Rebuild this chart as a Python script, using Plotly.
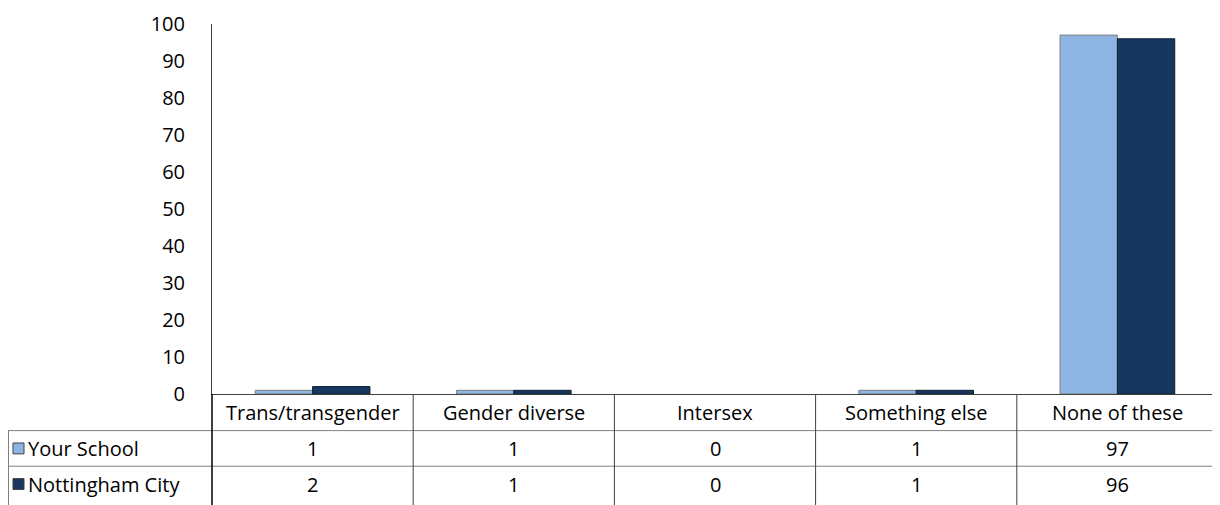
import plotly.graph_objects as go

categories = ["Trans/transgender", "Gender diverse", "Intersex", "Something else", "None of these"]
series_names = ["Your School", "Nottingham City"]
your_school = [1, 1, 0, 1, 97]
nottingham_city = [2, 1, 0, 1, 96]
y_ticks = [0, 10, 20, 30, 40, 50, 60, 70, 80, 90, 100]

colors = ["#8EB4E3", "#17375E"]
outlines = ["#7F7F7F", "#0D1F33"]
FONT = "Open Sans"
FS = 20
OFF = 8  # page body margin
W, H = 1220 - OFF, 505 - OFF
# plot area in page pixels: x 212..1218, y 20..394
L, R, T, B = 212 - OFF, 1220 - 1218, 20 - OFF, 505 - 394
pw, ph = W - L - R, H - T - B

def py(pix):
    return (394 - pix) / ph

def px(pix):
    return (pix - 212) / pw

fig = go.Figure()
for name, vals, c, oc in zip(series_names, [your_school, nottingham_city], colors, outlines):
    widths = [1 if v > 0 else 0 for v in vals]
    fig.add_trace(go.Bar(x=categories, y=vals, name=name,
                         marker=dict(color=c, line=dict(color=oc, width=widths))))

shapes = []
annotations = []
line_gray = "#808080"
for yy in [431, 467]:
    shapes.append(dict(type="line", xref="paper", yref="paper", x0=px(8), x1=1, y0=py(yy), y1=py(yy),
                       line=dict(color=line_gray, width=1)))
n = len(categories)
for i in range(n):
    shapes.append(dict(type="line", xref="x", yref="paper", x0=i + 0.5, x1=i + 0.5, y0=0, y1=py(510),
                       line=dict(color="#404040", width=1)))
shapes.append(dict(type="line", xref="paper", yref="paper", x0=0, x1=0, y0=0, y1=py(510),
                   line=dict(color="#000000", width=1.5)))
shapes.append(dict(type="line", xref="paper", yref="paper", x0=px(8.5), x1=px(8.5), y0=py(431), y1=py(510),
                   line=dict(color=line_gray, width=1)))

for i, cat in enumerate(categories):
    annotations.append(dict(x=i, y=py(412.5), xref="x", yref="paper", text=cat, showarrow=False,
                            font=dict(family=FONT, size=FS, color="#000"), yanchor="middle"))
rows_y = [449, 485]
for r, (name, vals) in enumerate(zip(series_names, [your_school, nottingham_city])):
    for i, v in enumerate(vals):
        annotations.append(dict(x=i, y=py(rows_y[r]), xref="x", yref="paper", text=str(v), showarrow=False,
                                font=dict(family=FONT, size=FS, color="#000"), yanchor="middle"))
    annotations.append(dict(x=px(26), y=py(rows_y[r]), xref="paper", yref="paper", text=name, showarrow=False,
                            xanchor="left", yanchor="middle", font=dict(family=FONT, size=FS, color="#000")))
    shapes.append(dict(type="rect", xref="paper", yref="paper", x0=px(13), x1=px(24),
                       y0=py(rows_y[r] + 5.5), y1=py(rows_y[r] - 5.5),
                       fillcolor=colors[r], line=dict(color="#404040", width=1)))

fig.update_layout(
    width=W, height=H,
    margin=dict(l=L, r=R, t=T, b=B),
    paper_bgcolor="white", plot_bgcolor="white",
    barmode="group", bargap=0.43, bargroupgap=0,
    showlegend=False,
    shapes=shapes, annotations=annotations,
    font=dict(family=FONT, size=FS, color="#000"),
)
fig.update_xaxes(showticklabels=False, showline=True, linecolor="#404040", linewidth=1,
                 showgrid=False, range=[-0.5, n - 0.5], ticks="")
fig.update_yaxes(range=[0, 100], tickvals=y_ticks, showline=True, linecolor="#404040", linewidth=1,
                 showgrid=False, zeroline=False, ticks="outside", ticklen=0,
                 ticklabelstandoff=22, ticklabeloverflow="allow",
                 tickfont=dict(family=FONT, size=FS, color="#000"))

fig.write_html("out.html")
